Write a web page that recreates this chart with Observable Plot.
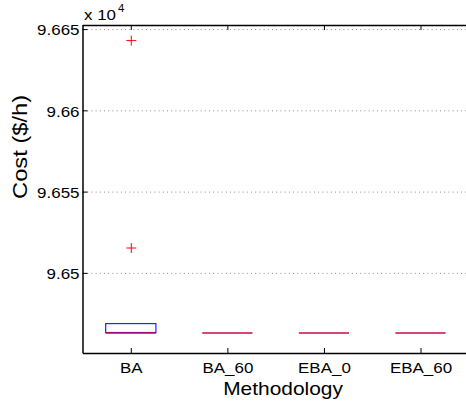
<!DOCTYPE html>
<html>
<head>
<meta charset="utf-8">
<script src="https://cdn.jsdelivr.net/npm/d3@7"></script>
<script src="https://cdn.jsdelivr.net/npm/@observablehq/plot@0.6"></script>
<style>
  html, body { margin: 0; padding: 0; background: #fff; overflow: hidden; }
  #chart svg { display: block; }
</style>
</head>
<body>
<div id="chart"></div>
<script>
// ---- data (y in $/h) ----
const categories = ["BA", "BA_60", "EBA_0", "EBA_60"];
const q1       = [96463.3, 96463.3, 96463.3, 96463.3];
const medians  = [96463.3, 96463.3, 96463.3, 96463.3];
const q3       = [96468.8, 96463.3, 96463.3, 96463.3];
const outlierCategory = ["BA", "BA"];
const outlierValue    = [96643.2, 96515.6];
const yTicks      = [96500, 96550, 96600, 96650];
const yTickLabels = ["9.65", "9.655", "9.66", "9.665"];

const boxes = categories.map((c, i) => ({
  cat: c, pos: i + 1, q1: q1[i], med: medians[i], q3: q3[i]
}));
const outliers = outlierCategory.map((c, i) => ({
  pos: categories.indexOf(c) + 1, value: outlierValue[i]
}));
const xTicks = categories.map((c, i) => i + 1);

const W = 466, H = 407;
const mL = 83, mT = 25, mB = 54, mR = 0;
const frameH = H - mT - mB;
const halfBox = 0.26;
const font = "'Liberation Sans', Arial, Helvetica, sans-serif";

const chart = Plot.plot({
  width: W,
  height: H,
  marginLeft: mL,
  marginTop: mT,
  marginBottom: mB,
  marginRight: mR,
  style: { fontFamily: font, fontSize: "15px", background: "#fff", color: "#000" },
  x: { type: "linear", domain: [0.5, 4.5], range: [82.5, 468.8] },
  y: { domain: [96450.7, 96652.5] },
  marks: [
    // dotted grid
    Plot.ruleY(yTicks, { stroke: "#8c8c8c", strokeDasharray: "1,3.2", strokeWidth: 1 }),
    // boxes (edges)
    Plot.rect(boxes, {
      x1: d => d.pos - halfBox, x2: d => d.pos + halfBox,
      y1: "q1", y2: "q3", fill: "none", stroke: "#2222ff", strokeWidth: 1.2
    }),
    // medians
    Plot.ruleY(boxes, {
      x1: d => d.pos - halfBox, x2: d => d.pos + halfBox,
      y: "med", stroke: "#d0064a", strokeWidth: 1.4
    }),
    // outliers
    Plot.dot(outliers, { x: "pos", y: "value", symbol: "plus", r: 3.3, stroke: "#ff0000", strokeWidth: 1 }),
    // inward ticks on bottom and top
    Plot.ruleX(xTicks, { stroke: "#000", insetTop: frameH - 5 }),
    Plot.ruleX(xTicks, { stroke: "#000", insetBottom: frameH - 5 }),
    // inward y ticks on left
    Plot.ruleY(yTicks, { x1: 0.5, x2: 0.5 + 5 * 4 / 386, stroke: "#000" }),
    // axes box lines
    Plot.ruleX([0.5], { stroke: "#000", strokeWidth: 1.5 }),
    Plot.frame({ anchor: "bottom", stroke: "#000", strokeWidth: 1.5 }),
    Plot.frame({ anchor: "top", stroke: "#000", strokeWidth: 1.5 }),
    // axes labels
    Plot.axisX(xTicks, {
      tickSize: 0, tickPadding: 9,
      tickFormat: d => categories[d - 1], fontSize: 15, label: null
    }),
    Plot.axisY(yTicks, {
      tickSize: 0, tickPadding: 4, dy: 1,
      tickFormat: d => yTickLabels[yTicks.indexOf(d)], fontSize: 15, label: null
    }),
    Plot.text(["Methodology"], {
      frameAnchor: "bottom", dx: 8, dy: 36, lineAnchor: "middle", fontSize: 18.5
    }),
    Plot.text(["Cost ($/h)"], {
      frameAnchor: "left", dx: -63.7, dy: 9.5, rotate: -90, lineAnchor: "middle", fontSize: 21
    }),
    Plot.text(["x 10"], {
      frameAnchor: "top-left", dx: 0.5, dy: -10.5, lineAnchor: "middle", textAnchor: "start", fontSize: 15
    }),
    Plot.text(["4"], {
      frameAnchor: "top-left", dx: 34.5, dy: -17.2, lineAnchor: "middle", textAnchor: "start", fontSize: 10
    })
  ]
});
document.getElementById("chart").appendChild(chart);

// the reference's Helvetica is rendered horizontally wider: stretch glyphs a little
const stretch = 1.13;
chart.querySelectorAll("text").forEach(t => {
  const L = t.getComputedTextLength();
  if (L > 0) {
    t.setAttribute("textLength", (L * stretch).toFixed(2));
    t.setAttribute("lengthAdjust", "spacingAndGlyphs");
  }
});
</script>
</body>
</html>
